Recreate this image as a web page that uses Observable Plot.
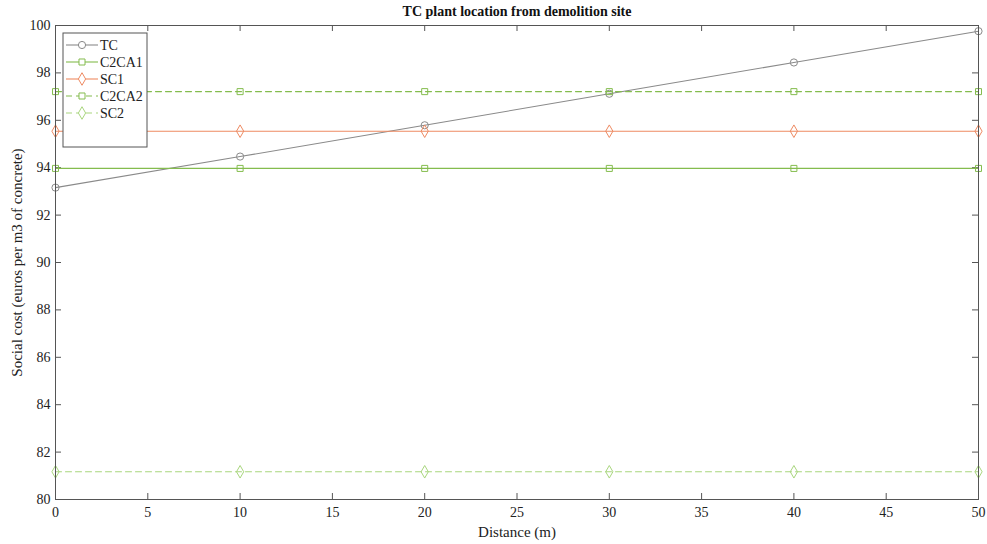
<!DOCTYPE html>
<html>
<head>
<meta charset="utf-8">
<script src="https://cdn.jsdelivr.net/npm/d3@7"></script>
<script src="https://cdn.jsdelivr.net/npm/@observablehq/plot@0.6"></script>
<style>
  html, body { margin: 0; padding: 0; background: #fff; }
  #chart svg { display: block; }
</style>
</head>
<body>
<div id="chart"></div>
<script>
const distances = [0, 10, 20, 30, 40, 50];
const seriesNames = ["TC", "C2CA1", "SC1", "C2CA2", "SC2"];
const tcValues    = [93.16, 94.47, 95.79, 97.12, 98.44, 99.76];
const c2ca1Values = [93.97, 93.97, 93.97, 93.97, 93.97, 93.97];
const sc1Values   = [95.54, 95.54, 95.54, 95.54, 95.54, 95.54];
const c2ca2Values = [97.21, 97.21, 97.21, 97.21, 97.21, 97.21];
const sc2Values   = [81.17, 81.17, 81.17, 81.17, 81.17, 81.17];
const xTicks = [0, 5, 10, 15, 20, 25, 30, 35, 40, 45, 50];
const yTicks = [80, 82, 84, 86, 88, 90, 92, 94, 96, 98, 100];

const seriesValues = [tcValues, c2ca1Values, sc1Values, c2ca2Values, sc2Values];
const styles = {
  TC:    {color: "#8a8a8a", dash: null, symbol: "circle", r: 3.6},
  C2CA1: {color: "#84bc4e", dash: null, symbol: "square", r: 3.4},
  SC1:   {color: "#ee8a62", dash: null, symbol: "diamond", r: 3.8},
  C2CA2: {color: "#84bc4e", dash: "6,4", symbol: "square", r: 3.4},
  SC2:   {color: "#a9d67e", dash: "6,4", symbol: "diamond", r: 3.8}
};

const data = seriesNames.flatMap((name, i) =>
  distances.map((d, j) => ({series: name, x: d, y: seriesValues[i][j]})));

const W = 987, H = 544;
const mL = 55, mR = 9, mT = 25, mB = 45;
const plotW = W - mL - mR, plotH = H - mT - mB;
const tickLen = 6;
const font = "'Liberation Serif', 'Times New Roman', serif";

const marks = [];
seriesNames.forEach(name => {
  const s = styles[name];
  const sub = data.filter(d => d.series === name);
  marks.push(Plot.line(sub, {x: "x", y: "y", stroke: s.color, strokeWidth: 1.1, strokeDasharray: s.dash}));
  marks.push(Plot.dot(sub, {x: "x", y: "y", stroke: s.color, fill: "none", symbol: s.symbol, r: s.r, strokeWidth: 1}));
});

const axisColor = "#555";
const plot = Plot.plot({
  width: W, height: H,
  marginLeft: mL, marginRight: mR, marginTop: mT, marginBottom: mB,
  style: {fontFamily: font, background: "#fff"},
  x: {domain: [0, 50]},
  y: {domain: [80, 100]},
  marks: [
    Plot.tickX(xTicks, {x: d => d, stroke: axisColor, insetTop: plotH - tickLen}),
    Plot.tickX(xTicks, {x: d => d, stroke: axisColor, insetBottom: plotH - tickLen}),
    Plot.tickY(yTicks, {y: d => d, stroke: axisColor, insetRight: plotW - tickLen}),
    Plot.tickY(yTicks, {y: d => d, stroke: axisColor, insetLeft: plotW - tickLen}),
    ...marks,
    Plot.frame({stroke: axisColor, strokeWidth: 1}),
    Plot.axisX({ticks: xTicks, tickSize: 0, tickPadding: 8, fontSize: 14, fill: "#222",
      label: "Distance (m)", labelAnchor: "center", labelArrow: "none", labelOffset: 37}),
    Plot.axisY({ticks: yTicks, tickSize: 0, tickPadding: 5, fontSize: 14, fill: "#222",
      label: "Social cost (euros per m3 of concrete)", labelAnchor: "center", labelArrow: "none", labelOffset: 44}),
    Plot.text(["TC plant location from demolition site"], {
      frameAnchor: "top", dy: -19, text: d => d, fontWeight: "bold", fontSize: 14, fill: "#111", lineAnchor: "top"})
  ]
});

document.getElementById("chart").appendChild(plot);

const svg = d3.select(plot);
svg.selectAll("[aria-label='x-axis label'] text, [aria-label='y-axis label'] text")
  .attr("font-size", 15).attr("fill", "#222");
const lg = svg.append("g").attr("font-family", font).attr("font-size", 14).attr("text-anchor", "start");
const lx = 63, ly = 33, lw = 84, lh = 114;
lg.append("rect").attr("x", lx).attr("y", ly).attr("width", lw).attr("height", lh)
  .attr("fill", "#fff").attr("stroke", axisColor).attr("stroke-width", 1);
seriesNames.forEach((name, i) => {
  const s = styles[name];
  const yy = ly + 12 + i * 17;
  lg.append("line").attr("x1", lx + 3).attr("x2", lx + 35).attr("y1", yy).attr("y2", yy)
    .attr("stroke", s.color).attr("stroke-width", 1.1)
    .attr("stroke-dasharray", s.dash);
  const sym = {circle: d3.symbolCircle, square: d3.symbolSquare, diamond: d3.symbolDiamond}[s.symbol];
  lg.append("path").attr("d", d3.symbol(sym, s.r * s.r * Math.PI)())
    .attr("transform", `translate(${lx + 19},${yy})`)
    .attr("fill", "#fff").attr("stroke", s.color);
  lg.append("text").attr("x", lx + 37).attr("y", yy).attr("dy", "0.35em")
    .attr("text-anchor", "start").attr("fill", "#222").text(name);
});
</script>
</body>
</html>
